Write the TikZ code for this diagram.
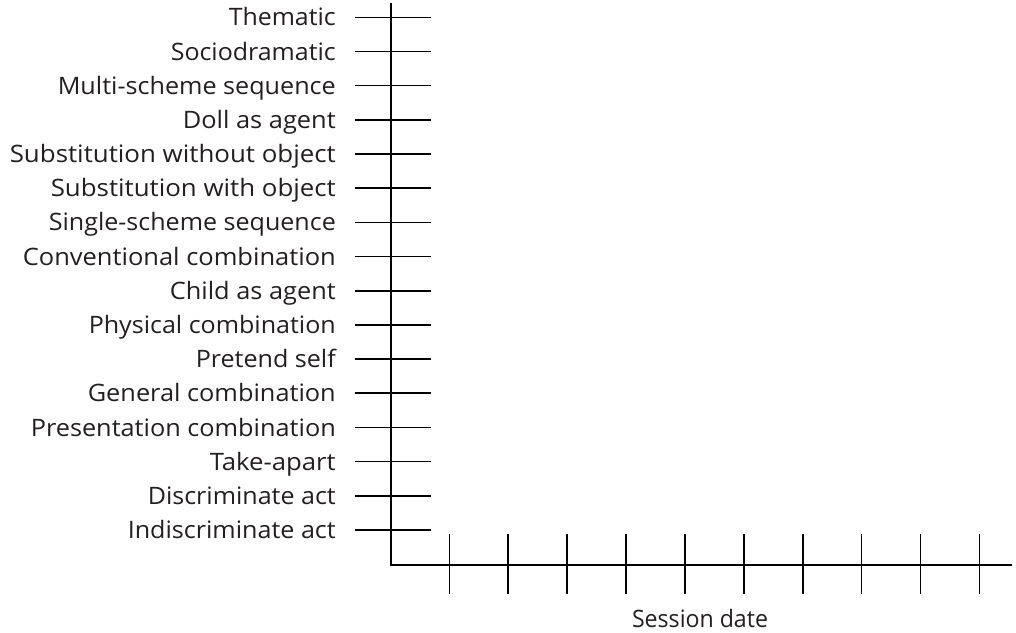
\documentclass[tikz,border=0pt]{standalone}
\usepackage{fontspec}
\usepackage{graphicx}
\setmainfont{Open Sans}
\newcommand\labfont{\fontsize{24}{28}\selectfont}
\definecolor{ink}{HTML}{231F20}
\begin{document}
\begin{tikzpicture}[x=1pt,y=-1pt,
  axis/.style={line width=1.6pt,black},
  lab/.style={anchor=base east,inner sep=0pt,font=\labfont,text=ink}]
\useasboundingbox (0,0) rectangle (1016,632);
\coordinate (top) at (391,3);
\coordinate (origin) at (391,565);
\coordinate (xend) at (1012,565);
\draw[axis] (top) -- (origin) -- (xend);
\foreach \t/\s [count=\i from 0] in {Thematic/229,Sociodramatic/171,Multi-scheme sequence/58,Doll as agent/183,Substitution without object/10,Substitution with object/51,Single-scheme sequence/49,Conventional combination/23,Child as agent/170,Physical combination/89,Pretend self/196,General combination/88,Presentation combination/31,Take-apart/210,Discriminate act/148,Indiscriminate act/128}{
  \pgfmathsetmacro{\yy}{17.3+\i*34.18}
  \pgfmathsetmacro{\yb}{\yy+8.6}
  \pgfmathsetmacro{\ww}{336-\s}
  \node[lab] (l\i) at (336,\yb) {\resizebox{\ww pt}{\height}{\t}};
  \coordinate (ta\i) at (355,\yy);
  \coordinate (tb\i) at (431,\yy);
  \draw[axis] (ta\i) -- (tb\i);
}
\foreach \i in {0,...,9}{
  \pgfmathsetmacro{\xx}{449.3+\i*58.9}
  \coordinate (va\i) at (\xx,534);
  \coordinate (vb\i) at (\xx,594);
  \draw[axis] (va\i) -- (vb\i);
}
\node[anchor=base,inner sep=0pt,font=\labfont,text=ink] (xlab) at (700,627) {\resizebox{136pt}{\height}{Session date}};
\end{tikzpicture}
\end{document}
